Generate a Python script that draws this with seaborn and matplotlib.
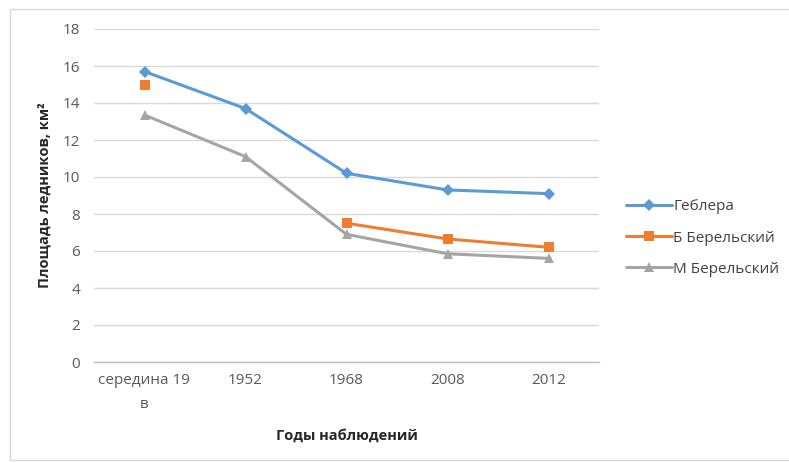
import pandas as pd
import numpy as np
import matplotlib
matplotlib.use("Agg")
import matplotlib.pyplot as plt
import seaborn as sns
from matplotlib.lines import Line2D
from matplotlib.patches import Rectangle

# Data
years = ["середина 19\nв", "1952", "1968", "2008", "2012"]
gebler = [15.7, 13.7, 10.2, 9.3, 9.1]
b_berel = [15.0, np.nan, 7.5, 6.65, 6.2]
m_berel = [13.35, 11.1, 6.9, 5.85, 5.6]

series = [
    ("Геблера", gebler, "#5B9BD5", "D", 6),
    ("Б Берельский", b_berel, "#ED7D31", "s", 7.5),
    ("М Берельский", m_berel, "#A5A5A5", "^", 7),
]

sns.set_theme(style="white")
plt.rcParams['font.family'] = ['Open Sans', 'DejaVu Sans']

fig = plt.figure(figsize=(7.89, 4.63), dpi=100)
ax = fig.add_axes([94 / 789, 1 - 362 / 463, (599 - 94) / 789, (362 - 29) / 463])

handles = []
for name, vals, color, marker, ms in series:
    df = pd.DataFrame({"pos": np.arange(len(years)), "val": vals})
    # split into runs so that a missing value leaves a gap like in Excel
    df["seg"] = df["val"].isna().cumsum()
    df = df.dropna()
    sns.lineplot(data=df, x="pos", y="val", units="seg", estimator=None,
                 color=color, marker=marker, markersize=ms, linewidth=2.2,
                 markeredgewidth=0, ax=ax, legend=False)
    handles.append(Line2D([0], [0], color=color, marker=marker, markersize=ms,
                          linewidth=2.2, markeredgewidth=0, label=name))

ax.set_xlim(-0.5, len(years) - 0.5)
ax.set_ylim(0, 18)
ax.set_yticks(range(0, 19, 2))
ax.set_xticks(range(len(years)))
ax.set_xticklabels(years, fontsize=11, color="#595959", linespacing=1.8)
ax.set_xticks(np.arange(-0.5, len(years), 1), minor=True)
ax.tick_params(axis="x", which="major", length=0, pad=8)
ax.tick_params(axis="x", which="minor", length=5, width=1, color="#bfbfbf", direction="out")
ax.tick_params(axis="y", length=0, labelsize=11, labelcolor="#595959", pad=10)
ax.yaxis.grid(True, color="#d9d9d9", linewidth=1)
ax.set_axisbelow(True)
for s in ["top", "right", "left"]:
    ax.spines[s].set_visible(False)
ax.spines["bottom"].set_color("#bfbfbf")
ax.spines["bottom"].set_linewidth(1)

ax.set_xlabel("Годы наблюдений", fontsize=10.5, fontweight="bold", color="#262626", labelpad=12)
ax.set_ylabel("Площадь ледников, км²", fontsize=10.5, fontweight="bold", color="#262626", labelpad=8)

fig.legend(handles=handles, loc="center left", bbox_to_anchor=(612 / 789, 1 - 238 / 463),
           frameon=False, fontsize=11, handlelength=3.0, labelspacing=1.05,
           handletextpad=0.1, labelcolor="#404040")

fig.add_artist(Rectangle((10 / 789, 3 / 463), 1.0, 1 - 12 / 463, transform=fig.transFigure,
                         fill=False, edgecolor="#d9d9d9", linewidth=1))

fig.savefig("out.png", dpi=100)
